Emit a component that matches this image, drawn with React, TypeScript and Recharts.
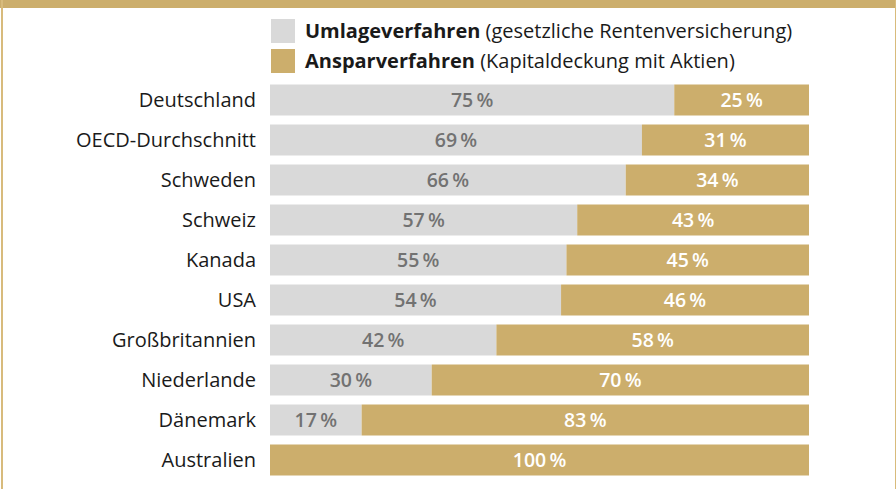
import React from 'react';
import { BarChart, Bar, XAxis, YAxis, LabelList } from 'recharts';

const countries = [
  'Deutschland',
  'OECD-Durchschnitt',
  'Schweden',
  'Schweiz',
  'Kanada',
  'USA',
  'Großbritannien',
  'Niederlande',
  'Dänemark',
  'Australien',
];
const umlage = [75, 69, 66, 57, 55, 54, 42, 30, 17, 0];
const anspar = [25, 31, 34, 43, 45, 46, 58, 70, 83, 100];

const GREY = '#d9d9d9';
const GOLD = '#ccae6c';
const FONT = '"Open Sans", "Noto Sans", sans-serif';

const data = countries.map((name, i) => ({ name, umlage: umlage[i], anspar: anspar[i] }));

const pct = (v: any) => (v ? `${v}\u2009%` : '');

const LegendBox = () => (
  <div style={{ fontFamily: FONT, fontSize: 20, color: '#1a1a1a', lineHeight: '24px' }}>
    <div style={{ display: 'flex', alignItems: 'center', marginBottom: 6 }}>
      <span style={{ width: 24, height: 24, background: GREY, marginRight: 10, display: 'inline-block' }} />
      <span><b>Umlageverfahren</b> (gesetzliche Rentenversicherung)</span>
    </div>
    <div style={{ display: 'flex', alignItems: 'center' }}>
      <span style={{ width: 24, height: 24, background: GOLD, marginRight: 10, display: 'inline-block' }} />
      <span><b>Ansparverfahren</b> (Kapitaldeckung mit Aktien)</span>
    </div>
  </div>
);

export default function App() {
  return (
    <div style={{ position: 'absolute', top: 0, left: 0, width: 896, height: 489, background: '#fff', overflow: 'hidden' }}>
      <div style={{ position: 'absolute', top: 0, left: 0, width: 896, height: 8, background: GOLD }} />
      <div style={{ position: 'absolute', top: 0, left: 1, width: 2, height: 489, background: '#d8bb7c' }} />
      <div style={{ position: 'absolute', top: 0, left: 895, width: 1, height: 489, background: '#d8bb7c' }} />
      <div style={{ position: 'absolute', top: 19, left: 271 }}>
        <LegendBox />
      </div>
      <div style={{ position: 'absolute', top: 0, left: 0 }}>
        <BarChart
          width={896}
          height={489}
          data={data}
          layout="vertical"
          margin={{ top: 79.5, right: 87, bottom: 9.5, left: 0 }}
          barSize={31}
        >
          <XAxis type="number" domain={[0, 100]} hide />
          <YAxis
            type="category"
            dataKey="name"
            width={270}
            axisLine={false}
            tickLine={false}
            tickSize={0}
            tickMargin={14}
            interval={0}
            tick={{ fill: '#1a1a1a', fontSize: 20, fontFamily: FONT }}
          />
          <Bar dataKey="umlage" stackId="a" fill={GREY} isAnimationActive={false}>
            <LabelList
              dataKey="umlage"
              position="center"
              formatter={pct}
              fill="#727272"
              style={{ fontFamily: FONT, fontSize: 19.5, fontWeight: 600 }}
            />
          </Bar>
          <Bar dataKey="anspar" stackId="a" fill={GOLD} isAnimationActive={false}>
            <LabelList
              dataKey="anspar"
              position="center"
              formatter={pct}
              fill="#ffffff"
              style={{ fontFamily: FONT, fontSize: 19.5, fontWeight: 600 }}
            />
          </Bar>
        </BarChart>
      </div>
    </div>
  );
}
